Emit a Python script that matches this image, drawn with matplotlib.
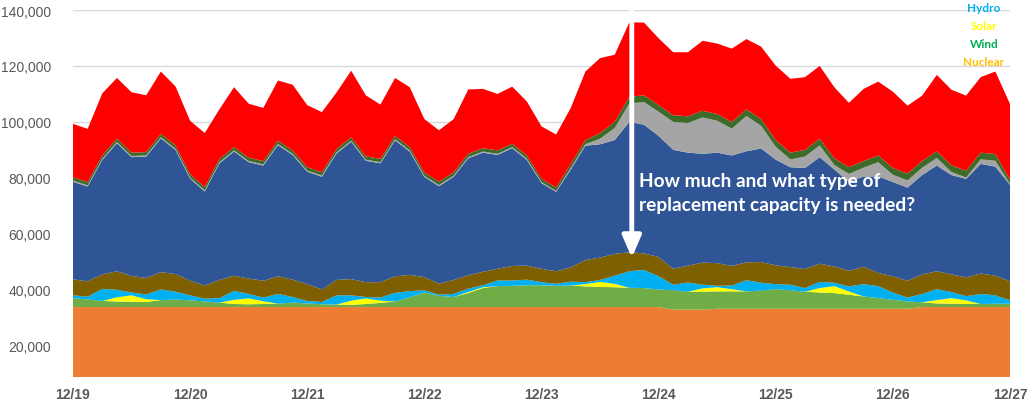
import matplotlib
matplotlib.use("Agg")
import matplotlib.pyplot as plt
from matplotlib.ticker import FuncFormatter
import numpy as np

# hours since 12/19 00:00, sampled every 3 hours
hours = list(range(0, 193, 3))
day_labels = ["12/19", "12/20", "12/21", "12/22", "12/23", "12/24", "12/25", "12/26", "12/27"]
day_ticks = [0, 24, 48, 72, 96, 120, 144, 168, 192]

# layer values in thousands of MW (bottom to top)
orange = [33.8, 33.8, 33.8, 33.8, 33.8, 33.8, 33.8, 33.8, 33.8, 33.8,
          33.8, 33.8, 33.8, 33.8, 33.8, 33.8, 33.8, 33.8, 33.8, 33.8,
          33.8, 33.8, 33.8, 33.8, 33.8, 33.8, 33.8, 33.8, 33.8, 33.8,
          33.8, 33.8, 33.8, 33.8, 33.8, 33.8, 33.8, 33.8, 33.8, 33.8,
          33.8, 32.9, 32.9, 32.9, 33.2, 33.2, 33.2, 33.2, 33.2, 33.2,
          33.2, 33.2, 33.2, 33.2, 33.2, 33.2, 33.2, 33.2, 33.8, 33.8,
          33.8, 33.8, 33.8, 33.8, 33.8]
green = [3.2, 2.7, 2.2, 2.0, 1.9, 1.8, 2.5, 2.7, 2.4, 2.0,
         1.6, 1.1, 1.0, 1.1, 1.2, 1.6, 1.3, 1.0, 0.9, 0.8,
         1.1, 1.5, 2.0, 3.5, 5.2, 4.0, 3.6, 5.0, 6.8, 7.5,
         7.6, 7.8, 7.8, 7.6, 7.7, 7.4, 7.2, 7.1, 6.9, 6.8,
         6.3, 6.9, 6.4, 6.4, 6.2, 6.2, 6.2, 6.5, 7.0, 6.6,
         6.1, 5.8, 5.6, 5.0, 4.4, 3.8, 3.2, 2.6, 1.7, 1.3,
         1.2, 1.1, 1.1, 1.2, 1.2]
solar = [0, 0, 0, 1.5, 2.3, 1.0, 0, 0, 0, 0,
         0, 1.5, 2.1, 1.0, 0, 0, 0, 0, 0, 1.5,
         2.0, 0.8, 0, 0, 0, 0, 0, 0.4, 0.3, 0,
         0, 0, 0, 0, 0, 0.8, 1.8, 1.2, 0, 0,
         0, 0, 0, 1.2, 1.5, 0.8, 0, 0, 0, 0,
         0, 1.6, 2.5, 1.2, 0, 0, 0, 0, 0, 1.2,
         2.0, 1.3, 0, 0, 0]
hydro = [1.0, 1.0, 4.3, 2.7, 1.0, 1.7, 3.8, 2.8, 1.8, 1.0,
         1.6, 3.2, 1.6, 1.3, 3.5, 2.0, 0.9, 0.8, 3.3, 1.9,
         0.5, 1.1, 3.1, 2.2, 0.8, 0.4, 1.1, 1.2, 0.7, 2.0,
         1.9, 2.0, 1.1, 0.7, 1.4, 0.7, 0.7, 2.9, 5.9, 6.5,
         4.7, 2.0, 3.3, 1.3, 0.5, 1.3, 4.0, 2.8, 1.8, 2.0,
         1.3, 2.2, 1.2, 1.8, 4.4, 4.3, 2.6, 1.4, 3.0, 3.9,
         2.2, 1.5, 3.6, 3.0, 1.2]
brown = [5.7, 5.5, 5.2, 6.6, 5.9, 5.9, 6.2, 6.3, 5.2, 4.7,
         6.5, 5.4, 5.5, 6.0, 6.3, 6.2, 6.0, 4.5, 5.5, 5.8,
         5.3, 5.5, 5.9, 5.8, 4.7, 4.0, 5.0, 4.8, 4.8, 4.2,
         5.2, 5.0, 4.8, 4.5, 5.1, 7.9, 8.0, 7.8, 6.8, 5.9,
         6.9, 5.7, 6.0, 7.9, 8.1, 7.0, 6.4, 7.4, 6.7, 6.3,
         6.8, 6.5, 5.8, 5.6, 6.2, 4.7, 5.8, 6.0, 7.0, 6.4,
         6.3, 6.7, 7.3, 7.0, 6.8]
blue = [34.9, 33.9, 40.9, 45.8, 42.5, 43.4, 47.8, 44.4, 36.5, 33.6,
        41.7, 44.4, 41.6, 41.2, 46.9, 44.6, 40.2, 40.3, 45.2, 49.1,
        43.4, 42.5, 48.6, 44.1, 35.8, 34.8, 36.9, 41.8, 42.6, 40.7,
        42.1, 37.8, 30.6, 28.4, 35.0, 40.9, 40.5, 40.7, 46.6, 46.0,
        43.3, 42.5, 40.4, 38.9, 39.5, 39.5, 39.7, 40.6, 37.8, 35.7,
        36.1, 38.1, 34.7, 31.7, 32.3, 34.5, 33.7, 33.3, 35.5, 37.8,
        35.5, 35.2, 39.2, 39.0, 34.5]
gray = [0.4, 0.4, 0.4, 0.4, 0.4, 0.4, 0.4, 0.4, 0.4, 0.4,
        0.4, 0.4, 0.4, 0.4, 0.4, 0.4, 0.4, 0.4, 0.4, 0.4,
        0.4, 0.4, 0.4, 0.4, 0.4, 0.4, 0.4, 0.4, 0.4, 0.4,
        0.4, 0.4, 0.4, 0.3, 0.5, 0.5, 2.0, 4.3, 6.6, 8.1,
        8.6, 10.0, 10.6, 13.0, 11.4, 9.6, 12.6, 8.1, 4.6, 2.8,
        4.1, 4.2, 1.6, 2.9, 3.1, 5.1, 2.6, 2.6, 2.6, 2.7,
        1.1, 0.5, 1.6, 2.1, 0.3]
darkgreen = [1.2, 1.2, 1.2, 1.2, 1.2, 1.2, 1.2, 1.2, 1.2, 1.2,
             1.2, 1.2, 1.2, 1.2, 1.2, 1.2, 1.2, 1.2, 1.2, 1.2,
             1.2, 1.2, 1.2, 1.2, 1.2, 1.2, 1.2, 1.2, 1.2, 1.2,
             1.2, 1.2, 1.2, 1.2, 1.5, 1.5, 2.0, 2.2, 2.4, 2.4,
             2.4, 2.4, 2.4, 2.4, 2.4, 2.4, 2.4, 2.4, 2.4, 2.4,
             2.4, 2.4, 2.4, 2.4, 2.4, 2.4, 2.4, 2.4, 2.4, 2.4,
             2.4, 2.4, 2.4, 2.4, 1.5]
red = [19.1, 19.0, 22.2, 21.7, 21.6, 20.3, 22.3, 21.1, 19.1, 19.3,
       17.7, 21.4, 19.3, 19.0, 21.5, 23.5, 22.2, 21.5, 20.2, 23.8,
       21.8, 19.4, 20.7, 21.4, 19.1, 18.4, 19.0, 23.0, 21.2, 20.2,
       20.4, 19.3, 18.7, 19.0, 20.0, 24.5, 26.8, 24.0, 26.6, 26.0,
       23.9, 22.5, 22.9, 25.0, 25.2, 26.2, 25.1, 25.9, 26.6, 26.4,
       26.0, 26.0, 25.4, 23.0, 25.8, 26.4, 27.3, 24.3, 23.4, 27.3,
       27.0, 26.9, 27.0, 29.5, 27.1]

layers = [orange, green, solar, hydro, brown, blue, gray, darkgreen, red]
colors = ["#ED7D31", "#70AD47", "#FFFF00", "#00B0F0", "#7F6000",
          "#2F5597", "#A5A5A5", "#3F6B2A", "#FF0000"]

legend_names = ["Hydro", "Solar", "Wind", "Nuclear"]
legend_colors = ["#00B0F0", "#FFFF00", "#00B050", "#FFC000"]

fig = plt.figure(figsize=(10.29, 4.02), dpi=100)
ax = fig.add_axes([73/1029, 1 - 378/402, (1010-73)/1029, (378-11)/402])

scaled = [np.array(l) * 1000 for l in layers]
ax.stackplot(hours, *scaled, colors=colors, linewidth=0, zorder=2)

ax.set_xlim(0, 192)
ax.set_ylim(8800, 140000)
ax.set_yticks([20000, 40000, 60000, 80000, 100000, 120000, 140000])
ax.yaxis.set_major_formatter(FuncFormatter(lambda v, p: f"{v:,.0f}"))
ax.set_xticks(day_ticks)
ax.set_xticklabels(day_labels)
ax.grid(axis="y", color="#D9D9D9", linewidth=1, zorder=0)
ax.set_axisbelow(True)
for s in ax.spines.values():
    s.set_visible(False)
ax.tick_params(axis="both", length=0)
ax.tick_params(axis="y", pad=16, labelsize=10, labelcolor="#595959")
ax.tick_params(axis="x", pad=7, labelsize=10, labelcolor="#595959")
for lab in ax.get_yticklabels():
    lab.set_fontfamily("Liberation Sans")
for lab in ax.get_xticklabels():
    lab.set_fontfamily("Liberation Sans")
    lab.set_fontweight("bold")

# arrow
arrow_x = 114.5
ax.annotate("", xy=(arrow_x, 50400), xytext=(arrow_x, 141000),
            arrowprops=dict(arrowstyle="-|>,head_width=0.28,head_length=0.65",
                            color="white", lw=3.5, mutation_scale=20),
            annotation_clip=False, zorder=5)

ax.text(116.0, 74800, "How much and what type of\nreplacement capacity is needed?",
        color="white", fontsize=13.8, fontweight="bold", family="Lato",
        ha="left", va="center", linespacing=1.45, zorder=6)

# partial legend text at top right
leg_y = [8, 26, 44, 62]
for name, col, yy in zip(legend_names, legend_colors, leg_y):
    fig.text(984/1029, 1 - yy/402, name, color=col, fontsize=8.5, fontweight="bold",
             family="Lato", ha="center", va="center")

fig.savefig("out.png", dpi=100)
